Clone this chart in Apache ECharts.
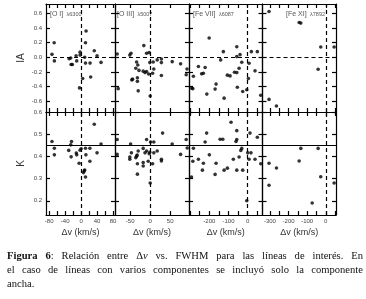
<!DOCTYPE html>
<html><head><meta charset="utf-8">
<script src="https://cdn.jsdelivr.net/npm/echarts@6/dist/echarts.min.js"></script>
<style>html,body{margin:0;padding:0;background:#fff}#c{width:366px;height:299px}</style>
</head><body><div id="c"></div>
<script>
// ---- data ----
const panelLines = ['[O I]', '[O III]', '[Fe VII]', '[Fe XI]'];
const panelWaves = ['λ6300', 'λ5007', 'λ6087', 'λ7892'];
const rowNames = ['IA', 'K'];
const xTitle = 'Δv (km/s)';
const xMin = [-88, -88, -306, -340];
const xMax = [85, 97, 77, 55];
const xTickVals = [
  [-80, -60, -40, -20, 0, 20, 40, 60, 80],
  [-50, 0, 50],
  [-300, -250, -200, -150, -100, -50, 0, 50],
  [-300, -250, -200, -150, -100, -50, 0, 50]
];
const xLabelVals = [[-80, -40, 0, 40, 80], [-50, 0, 50], [-200, -100, 0], [-300, -200, -100, 0]];
const yMin = [-0.75, 0.136];
const yMax = [0.73, 0.6];
const yTickVals = [[-0.6, -0.4, -0.2, 0, 0.2, 0.4, 0.6], [0.2, 0.3, 0.4, 0.5, 0.6]];
const refY = [0, 0.45];

const oiIA = [[12.5,0.36],[-67.5,0.20],[11,0.20],[-73,0.04],[-67,-0.05],[-30,-0.02],[-26,-0.01],[-25,-0.10],[-22,-0.10],[-12.5,0.02],[-11,-0.05],[-2.5,0.07],[-2.5,0.03],[9,0.0],[11,-0.08],[22.5,-0.08],[33,0.09],[40,0.02],[50,-0.07],[4,-0.29],[24,-0.27],[-4,-0.42]];
const oiiiIA = [[-82.5,0.045],[-51,0.03],[-48,0.055],[-16,0.16],[-9,0.055],[-2.5,0.064],[-34,-0.064],[-31,-0.105],[-36,-0.15],[-28,-0.18],[-17.5,-0.19],[-9,-0.195],[-4,-0.23],[-13,-0.21],[-1,-0.073],[7.5,-0.064],[17.5,-0.036],[28,-0.023],[28,-0.073],[9,-0.16],[6,-0.22],[55,-0.06],[76,-0.09],[28,-0.25],[-44,-0.30],[-46,-0.31],[-32,-0.28],[-32,-0.33],[-80,-0.43],[-30,-0.46],[0,-0.53],[92,-0.16],[90,-0.24]];
const fe7IA = [[-201,0.264],[-127,0.077],[-57,0.145],[-40,0.036],[-57,0.009],[-31,-0.068],[-45,-0.15],[-69,-0.205],[-57,-0.21],[-92,-0.255],[-106,-0.245],[-141,-0.036],[19,0.077],[50,0.077],[7,-0.082],[3.5,-0.29],[-5,-0.445],[-54,-0.41],[-26,-0.47],[38,-0.186],[-257,-0.127],[-222,-0.14],[-231,-0.218],[-240,-0.227],[-292,-0.423],[-286,-0.43],[-170,-0.436],[-165,-0.368],[-213,-0.505],[-123,-0.56],[68,-0.52],[-283,-0.26]];
const fe11IA = [[-305,0.627],[-143,0.477],[-134,0.468],[-27,0.141],[45,0.141],[-41,-0.164],[-305,-0.577],[-265,-0.668]];
const oiK = [[33,0.545],[-73,0.467],[-67,0.437],[-67,0.407],[-24,0.467],[-26,0.452],[-31,0.427],[-25,0.398],[-12,0.415],[-11,0.407],[-2.5,0.428],[0,0.434],[-5,0.369],[11,0.437],[12,0.407],[22,0.437],[22,0.378],[40,0.416],[50,0.456],[6,0.327],[8,0.335],[9,0.339],[11,0.307]];
const oiiiK = [[-82.5,0.476],[-82.5,0.409],[-49,0.456],[-47,0.416],[-51,0.397],[-51,0.387],[-34,0.401],[-30,0.424],[-36,0.394],[-32.5,0.406],[-17.5,0.436],[-9,0.476],[-9,0.424],[-13,0.416],[1,0.465],[-2.5,0.412],[-1,0.419],[9,0.465],[9,0.416],[17.5,0.424],[31,0.505],[55,0.456],[-17.5,0.372],[-5,0.378],[6,0.367],[28,0.387],[28,0.379],[-32,0.367],[-17.5,0.357],[-32,0.32],[0,0.28],[76,0.409],[90,0.476],[92.5,0.438]];
const fe7K = [[-87,0.554],[-214,0.505],[-222,0.465],[-57,0.516],[-57,0.476],[-61,0.467],[-144,0.477],[-130,0.477],[12,0.505],[50,0.486],[-283,0.437],[-31,0.436],[-36,0.427],[-45,0.397],[-75,0.387],[0,0.416],[17,0.416],[7,0.387],[38,0.387],[68,0.367],[-200,0.407],[-257,0.387],[-286,0.378],[-231,0.369],[-165,0.369],[-236,0.338],[-170,0.319],[-106,0.347],[-123,0.338],[-57,0.338],[-26,0.338],[-293,0.307],[-5,0.2]];
const fe11K = [[-134,0.436],[-41,0.436],[-143,0.379],[-305,0.369],[-265,0.348],[-305,0.27],[-27,0.308],[45,0.28],[-73,0.19]];

const captionLines = [
  '*Figura* *6*: Relación entre Δ_v_ vs. FWHM para las líneas de interés. En',
  'el caso de líneas con varios componentes se incluyó solo la componente',
  'ancha.'
];

// ---- layout ----
const panelData = [[oiIA, oiiiIA, fe7IA, fe11IA], [oiK, oiiiK, fe7K, fe11K]];
const colL = [46, 115, 189, 262.5], colR = [115, 189, 262.5, 336];
const rowT = [4, 112], rowB = [112, 215];

const grid = [], xAxis = [], yAxis = [], series = [], graphic = [];
const lineSt = {color: '#000', width: 1.2};
const fmtY = v => Number(v).toFixed(1);
for (let r = 0; r < 2; r++) {
  for (let c = 0; c < 4; c++) {
    const g = r * 4 + c;
    grid.push({left: colL[c], top: rowT[r], width: colR[c] - colL[c], height: rowB[r] - rowT[r]});
    ['bottom', 'top'].forEach((pos) => {
      const showLab = pos === 'bottom' && r === 1;
      xAxis.push({
        type: 'value', gridIndex: g, position: pos, min: xMin[c], max: xMax[c],
        axisLine: {show: true, onZero: false, lineStyle: lineSt},
        axisTick: {show: true, inside: true, length: 4, lineStyle: lineSt, customValues: xTickVals[c]},
        axisLabel: {show: showLab, customValues: xLabelVals[c], fontSize: 6, color: '#444', margin: 3},
        splitLine: {show: false},
        name: showLab ? xTitle : '', nameLocation: 'middle', nameGap: 13,
        nameTextStyle: {fontSize: 9, color: '#333'}
      });
    });
    ['left', 'right'].forEach((pos) => {
      const isLeft = pos === 'left' && c === 0;
      yAxis.push({
        type: 'value', gridIndex: g, position: pos, min: yMin[r], max: yMax[r],
        axisLine: {show: true, onZero: false, lineStyle: lineSt},
        axisTick: {show: true, inside: true, length: 4, lineStyle: lineSt, customValues: yTickVals[r]},
        axisLabel: {show: isLeft && r === 0, customValues: yTickVals[r], fontSize: 6, color: '#444', margin: 4, formatter: fmtY},
        splitLine: {show: false},
        name: isLeft ? rowNames[r] : '', nameLocation: 'middle', nameGap: 20, nameRotate: 90,
        nameTextStyle: {fontSize: 10, color: '#333'}
      });
    });
    series.push({
      type: 'scatter', xAxisIndex: 2 * g, yAxisIndex: 2 * g, data: panelData[r][c],
      symbol: 'circle', symbolSize: 3.6, itemStyle: {color: '#000'}, silent: true,
      markLine: {
        silent: true, symbol: 'none', label: {show: false}, animation: false,
        data: [
          {xAxis: 0, lineStyle: {color: '#000', width: 1.2, type: [4, 3]}},
          {yAxis: refY[r], lineStyle: {color: '#000', width: 1.2, type: r === 0 ? [4, 3] : 'solid'}}
        ]
      }
    });
  }
}

// panel titles
const titleX = [colL[0] + 4, colL[1] + 2, colL[2] + 4, 325];
for (let c = 0; c < 4; c++) {
  graphic.push({
    type: 'text', x: titleX[c], y: 14,
    style: {
      text: '{a|' + panelLines[c] + '} {b|' + panelWaves[c] + '}',
      align: c === 3 ? 'right' : 'left', verticalAlign: 'middle',
      rich: {a: {fontSize: 7, fill: '#555'}, b: {fontSize: 5.5, fill: '#555'}}
    }
  });
}

// caption (justified words)
const capFont = '"Liberation Serif", "DejaVu Serif", serif';
const capSize = 10.6;
const capX0 = 7, capX1 = 363, capY = [256, 270, 284];
const ctx = document.createElement('canvas').getContext('2d');
function segsOf(word) {
  const out = []; const re = /\*([^*]+)\*|_([^_]+)_|([^*_]+)/g; let m;
  while ((m = re.exec(word))) {
    if (m[1]) out.push({t: m[1], b: true}); else if (m[2]) out.push({t: m[2], i: true}); else out.push({t: m[3]});
  }
  return out;
}
function fontOf(s) { return (s.i ? 'italic ' : '') + (s.b ? 'bold ' : '') + capSize + 'px ' + capFont; }
function width(s) { ctx.font = fontOf(s); return ctx.measureText(s.t).width; }
captionLines.forEach((line, li) => {
  const words = line.split(' ').map(segsOf);
  const ws = words.map(w => w.reduce((a, s) => a + width(s), 0));
  const total = ws.reduce((a, b) => a + b, 0);
  const justify = li < captionLines.length - 1;
  const gap = justify ? (capX1 - capX0 - total) / (words.length - 1) : width({t: ' '});
  let x = capX0;
  words.forEach((w) => {
    w.forEach(s => {
      graphic.push({type: 'text', x: x, y: capY[li], style: {
        text: s.t, fontSize: capSize, fontFamily: capFont, fontWeight: s.b ? 'bold' : 'normal',
        fontStyle: s.i ? 'italic' : 'normal', fill: '#111', verticalAlign: 'middle', align: 'left'}});
      x += width(s);
    });
    x += gap;
  });
});

const chart = echarts.init(document.getElementById('c'), null, {renderer: 'canvas'});
chart.setOption({backgroundColor: '#fff', animation: false, grid, xAxis, yAxis, series, graphic});

// lower-row tick labels, placed through the lower-left y axis scale
const lowerLabels = yTickVals[1].map(v => ({
  type: 'text', x: colL[0] - 4, y: chart.convertToPixel({yAxisIndex: 8}, v),
  style: {text: fmtY(v), fontSize: 6, fill: '#444', align: 'right', verticalAlign: 'middle'}
}));
chart.setOption({graphic: graphic.concat(lowerLabels)});
</script></body></html>
